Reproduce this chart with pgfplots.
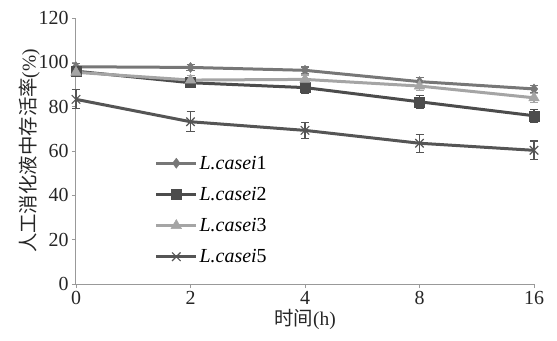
\documentclass[border=0pt]{standalone}
\usepackage{pgfplots}
\pgfplotsset{compat=1.18}
\usepackage{fontspec}
\setmainfont{Liberation Serif}
\newfontfamily\cjk{Noto Sans CJK SC}
\definecolor{cA}{HTML}{777777}
\definecolor{cB}{HTML}{4C4C4C}
\definecolor{cC}{HTML}{A5A5A5}
\definecolor{cD}{HTML}{555555}
\begin{document}
\begin{tikzpicture}
\begin{axis}[
  scale only axis, width=458bp, height=266bp,
  xmin=0, xmax=4, ymin=0, ymax=120,
  xtick={0,1,2,3,4}, xticklabels={0,2,4,8,16},
  ytick={0,20,40,60,80,100,120},
  axis lines=left, axis line style={-, color=gray!80, line width=1bp},
  tick style={color=gray!80, line width=0.8bp}, tick align=outside,
  major tick length=4bp,
  /pgf/number format/assume math mode=true,
  tick label style={font=\fontsize{20}{23}\selectfont, text=black!85},
  xlabel={{\cjk 时间}(h)}, ylabel={{\cjk 人工消化液中存活率}(\%)},
  label style={font=\fontsize{19.5}{22}\selectfont, text=black!85},
  xlabel style={yshift=3bp},
  ylabel style={yshift=-8bp},
  clip=false,
  legend style={draw=none, fill=none, at={(rel axis cs:0.172,0.49)}, anchor=north west,
     font=\fontsize{20}{23}\selectfont, row sep=12.5bp, inner sep=0pt},
  legend cell align=left,
  every axis plot/.append style={line width=3bp},
  error bars/error bar style={line width=1.2bp},
  error bars/error mark options={rotate=90, mark size=4bp, line width=1.2bp},
  legend image code/.code={
    \draw[mark repeat=2,mark phase=2] plot coordinates {(0cm,0cm) (0.7cm,0cm) (1.4cm,0cm)};},
]
\coordinate (ll) at (rel axis cs:0,0);
\coordinate (ur) at (rel axis cs:1,1);
\addplot[color=cA, mark=diamond*, mark size=5bp, mark options={line width=0.5bp},
  error bars/.cd, y dir=both, y explicit]
  coordinates {(0,98) +- (0,1.5) (1,97.7) +- (0,1.5) (2,96.4) +- (0,1.5) (3,91.3) +- (0,2) (4,88) +- (0,1.5)};
\addlegendentry{\textit{L.casei}1}
\addplot[color=cB, mark=square*, mark size=5bp, mark options={line width=0.5bp},
  error bars/.cd, y dir=both, y explicit]
  coordinates {(0,96) +- (0,2) (1,90.8) +- (0,2) (2,88.6) +- (0,2.5) (3,82.2) +- (0,3) (4,75.9) +- (0,3)};
\addlegendentry{\textit{L.casei}2}
\addplot[color=cC, mark=triangle*, mark size=6bp, mark options={line width=0.5bp},
  error bars/.cd, y dir=both, y explicit]
  coordinates {(0,95.5) +- (0,2) (1,92) +- (0,2) (2,92.3) +- (0,2) (3,89.3) +- (0,2) (4,84) +- (0,2)};
\addlegendentry{\textit{L.casei}3}
\addplot[color=cD, mark=x, mark size=6bp, mark options={line width=1.2bp},
  error bars/.cd, y dir=both, y explicit]
  coordinates {(0,83.3) +- (0,4.3) (1,73.2) +- (0,4.5) (2,69.3) +- (0,3.7) (3,63.5) +- (0,4) (4,60.3) +- (0,4.2)};
\addlegendentry{\textit{L.casei}5}
\end{axis}
\pgfresetboundingbox
\path[use as bounding box] ([shift={(-76bp,-57bp)}]ll) rectangle ([shift={(23bp,18bp)}]ur);
\end{tikzpicture}
\end{document}
